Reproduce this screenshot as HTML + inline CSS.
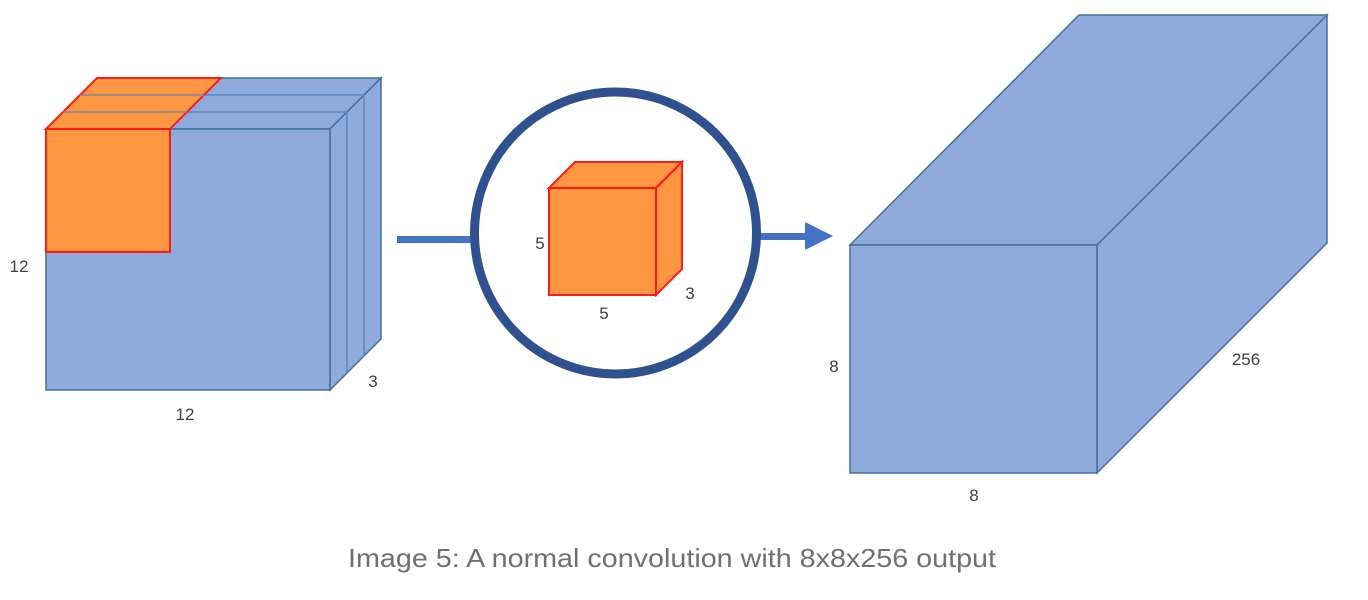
<!DOCTYPE html>
<html><head><meta charset="utf-8"><style>html,body{margin:0;padding:0;background:#fff;}svg{display:block}</style></head>
<body>
<svg width="1368" height="600" viewBox="0 0 1368 600" xmlns="http://www.w3.org/2000/svg" font-family="Liberation Sans, sans-serif">
<g stroke="#41719c" stroke-width="1.5" stroke-linejoin="miter" fill="#8faadc">
  <!-- left cube -->
  <polygon points="46,129 97,78 381,78 330,129"/>
  <polygon points="330,129 381,78 381,339 330,390"/>
  <rect x="46" y="129" width="284" height="261"/>
  <line x1="80" y1="95" x2="364" y2="95" stroke="#5b86c5"/>
  <line x1="63" y1="112" x2="347" y2="112" stroke="#5b86c5"/>
  <line x1="364" y1="95" x2="364" y2="356" stroke="#5b86c5"/>
  <line x1="347" y1="112" x2="347" y2="373" stroke="#5b86c5"/>
</g>
<g fill="#fd9640" stroke="#ff1a1a" stroke-width="2">
  <polygon points="46,129 97,78 221,78 170,129"/>
  <rect x="46" y="129" width="124" height="123"/>
</g>
<line x1="80" y1="95" x2="204" y2="95" stroke="#7a8a9c" stroke-width="1.5"/>
<line x1="63" y1="112" x2="187" y2="112" stroke="#7a8a9c" stroke-width="1.5"/>

<!-- arrows -->
<rect x="397" y="236" width="75" height="7" fill="#4472c4"/>
<rect x="760" y="233" width="48" height="7" fill="#4472c4"/>
<polygon points="805,222 833,236 805,250" fill="#4472c4"/>
<circle cx="615.5" cy="233" r="141" fill="#fff" stroke="#2f528f" stroke-width="9"/>

<!-- small cube -->
<g fill="#fd9640" stroke="#ff1a1a" stroke-width="2">
  <polygon points="549,188 575,162 682,162 656,188"/>
  <polygon points="656,188 682,162 682,269 656,295"/>
  <rect x="549" y="188" width="107" height="107"/>
</g>

<!-- right box -->
<g stroke="#41719c" stroke-width="1.5" fill="#8faadc">
  <polygon points="850,245 1079,15 1327,15 1097,245"/>
  <polygon points="1097,245 1327,15 1327,243 1097,473"/>
  <rect x="850" y="245" width="247" height="228"/>
</g>

<g fill="#404040" font-size="17" text-anchor="middle">
  <text x="19" y="272">12</text>
  <text x="185" y="420">12</text>
  <text x="373" y="387">3</text>
  <text x="540" y="249">5</text>
  <text x="604" y="319">5</text>
  <text x="690" y="299">3</text>
  <text x="834" y="372">8</text>
  <text x="1246" y="365">256</text>
  <text x="974" y="501">8</text>
</g>
<text x="348" y="567" font-size="26" fill="#707070" textLength="648" lengthAdjust="spacingAndGlyphs">Image 5: A normal convolution with 8x8x256 output</text>
</svg>
</body></html>
